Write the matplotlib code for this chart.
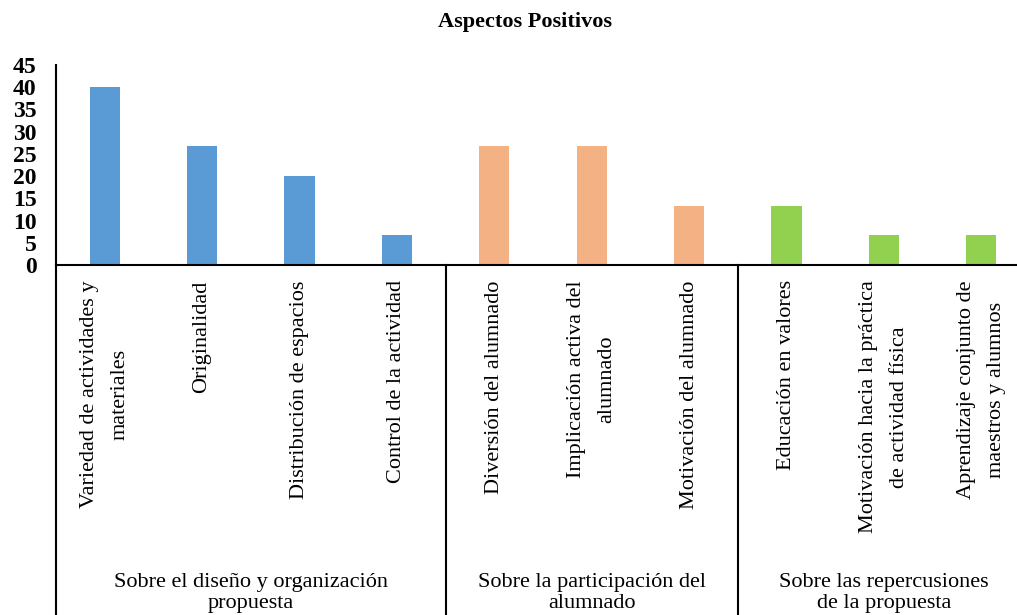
import matplotlib.pyplot as plt

plt.rcParams['font.family'] = ['Liberation Serif', 'DejaVu Serif']

categories = [
    "Variedad de actividades y\nmateriales",
    "Originalidad",
    "Distribución de espacios",
    "Control de la actividad",
    "Diversión del alumnado",
    "Implicación activa del\nalumnado",
    "Motivación del alumnado",
    "Educación en valores",
    "Motivación hacia la práctica\nde actividad física",
    "Aprendizaje conjunto de\nmaestros y alumnos",
]
values = [40, 26.7, 20, 6.7, 26.7, 26.7, 13.3, 13.3, 6.7, 6.7]
groups = [
    "Sobre el diseño y organización\npropuesta",
    "Sobre la participación del\nalumnado",
    "Sobre las repercusiones\nde la propuesta",
]
group_sizes = [4, 3, 3]
group_colors = ["#5B9BD5", "#F4B183", "#92D050"]

colors = []
for c, n in zip(group_colors, group_sizes):
    colors += [c] * n

fig = plt.figure(figsize=(10.17, 6.15), dpi=100)
ax = fig.add_axes([56 / 1017, 1 - 265 / 615, (1030 - 56) / 1017, 200 / 615])

x = list(range(len(values)))
ax.bar(x, values, width=0.31, color=colors)
ax.set_xlim(-0.5, len(values) - 0.5)
ax.set_ylim(0, 45)
ax.set_yticks(range(0, 46, 5))
ax.tick_params(axis='y', length=0, pad=14, labelsize=17)
ax.tick_params(axis='x', length=0, pad=11)
for t in ax.get_yticklabels():
    t.set_fontweight('bold')

ax.set_xticks(x)
ax.set_xticklabels(categories, rotation=90, fontsize=16, va='top', ha='center',
                   multialignment='center')
for t in ax.get_xticklabels():
    t.set_linespacing(1.8)

ax.spines['top'].set_visible(False)
ax.spines['right'].set_visible(False)
ax.spines['left'].set_linewidth(1.5)
ax.spines['bottom'].set_linewidth(1.5)

# group separators running down to the bottom of the figure
tr = ax.get_xaxis_transform()
start = -0.5
bounds = [start]
for n in group_sizes:
    start += n
    bounds.append(start)
for b in bounds[:-1]:
    ax.plot([b, b], [0, -1.8], color='black', lw=1.5, transform=tr, clip_on=False)

for i, g in enumerate(groups):
    mid = (bounds[i] + bounds[i + 1]) / 2
    ax.text(mid, -1.64, g, transform=tr, ha='center', va='center',
            fontsize=16, linespacing=1.15)

fig.text(525 / 1017, 1 - 22 / 615, "Aspectos Positivos", ha='center', va='center',
         fontsize=16, fontweight='bold')

fig.savefig("out.png", dpi=100)
